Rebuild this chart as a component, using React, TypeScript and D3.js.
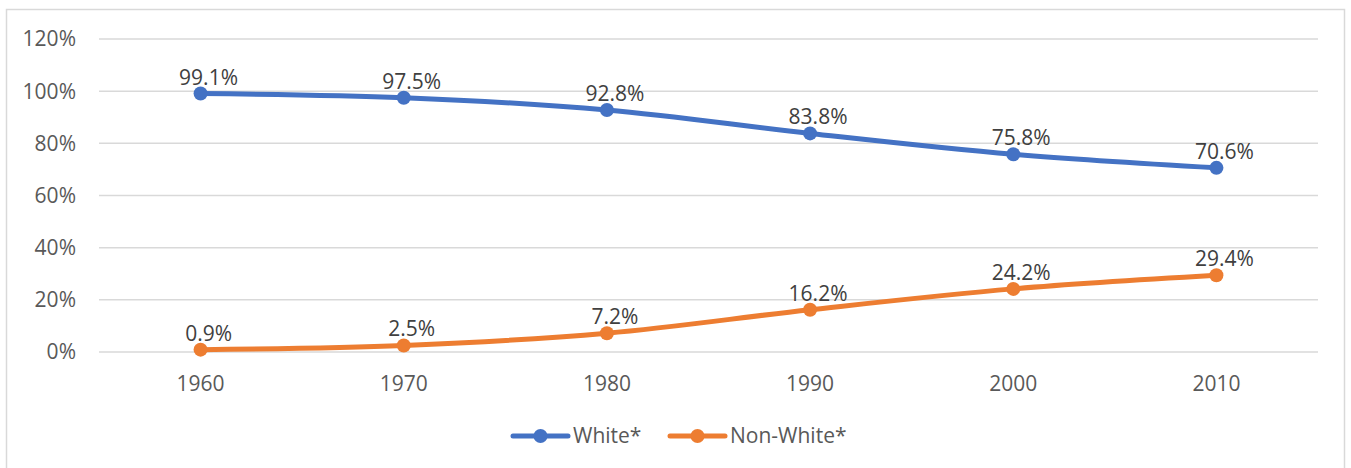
import React from "react";
import * as d3 from "d3";

const years = ["1960", "1970", "1980", "1990", "2000", "2010"];
const white = [99.1, 97.5, 92.8, 83.8, 75.8, 70.6];
const nonWhite = [0.9, 2.5, 7.2, 16.2, 24.2, 29.4];
const yTicks = [0, 20, 40, 60, 80, 100, 120];
const seriesNames = ["White*", "Non-White*"];
const seriesColors = ["#4472C4", "#ED7D31"];

const W = 1351;
const H = 468;
const left = 99;
const right = 1318;
const top = 39;
const bottom = 352;
const FONT = "'Open Sans', 'Liberation Sans', sans-serif";
const FS = 21;

export default function App() {
  const x = d3.scaleBand<string>().domain(years).range([left, right]);
  const y = d3.scaleLinear().domain([0, 120]).range([bottom, top]);
  const cx = (d: string) => (x(d) as number) + x.bandwidth() / 2;
  const line = d3
    .line<number>()
    .x((_, i) => cx(years[i]))
    .y((v) => y(v))
    .curve(d3.curveCatmullRom.alpha(0.5));
  const series = [white, nonWhite];

  return (
    <svg
      width={W}
      height={H}
      style={{ position: "absolute", left: 0, top: 0, background: "#fff" }}
      fontFamily={FONT}
    >
      <rect x={6.5} y={9.5} width={1338} height={470} fill="#fff" stroke="#d9d9d9" strokeWidth={1.5} />
      {yTicks.map((t) => (
        <g key={t}>
          <line x1={left} x2={right} y1={y(t)} y2={y(t)} stroke="#d9d9d9" strokeWidth={1.5} />
          <text x={76} y={y(t)} dy="0.35em" textAnchor="end" fontSize={FS} fill="#595959">
            {t}%
          </text>
        </g>
      ))}
      {years.map((yr) => (
        <text key={yr} x={cx(yr)} y={391} textAnchor="middle" fontSize={FS} fill="#595959">
          {yr}
        </text>
      ))}
      {series.map((s, si) => (
        <g key={si}>
          <path d={line(s) || ""} fill="none" stroke={seriesColors[si]} strokeWidth={5} strokeLinecap="round" />
          {s.map((v, i) => (
            <circle key={i} cx={cx(years[i])} cy={y(v)} r={7} fill={seriesColors[si]} />
          ))}
        </g>
      ))}
      {series.map((s, si) =>
        s.map((v, i) => (
          <text
            key={`${si}-${i}`}
            x={cx(years[i]) + 8}
            y={y(v) - 9}
            textAnchor="middle"
            fontSize={FS}
            fill="#404040"
          >
            {v.toFixed(1)}%
          </text>
        ))
      )}
      {seriesNames.map((n, i) => {
        const lx = i === 0 ? 513 : 670;
        return (
          <g key={n}>
            <line x1={lx} x2={lx + 55} y1={436} y2={436} stroke={seriesColors[i]} strokeWidth={5} strokeLinecap="round" />
            <circle cx={lx + 27.5} cy={436} r={7} fill={seriesColors[i]} />
            <text x={lx + 60} y={443} fontSize={FS} fill="#595959">
              {n}
            </text>
          </g>
        );
      })}
    </svg>
  );
}
